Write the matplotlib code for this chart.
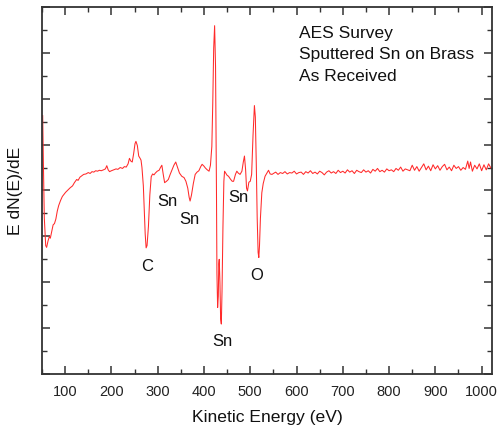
import matplotlib
matplotlib.use("Agg")
import matplotlib.pyplot as plt
from matplotlib.ticker import MultipleLocator, NullFormatter

plt.rcParams['font.family'] = ['Liberation Sans', 'DejaVu Sans']

energy = [51.5, 53, 55, 58, 60, 63, 66, 68, 71, 74, 77, 80, 83, 86, 90, 94, 97, 101, 105, 111,
          116, 120, 125, 128, 132, 136, 140, 145, 150, 154, 158, 162, 166, 170, 174, 178, 183, 187, 190, 193,
          196, 200, 205, 210, 214, 219, 224, 228, 232, 236, 239, 242, 245, 248, 251, 253, 256, 259, 262, 264,
          266, 269, 271, 273, 275, 277, 280, 283, 286, 289, 292, 295, 299, 303, 306, 309, 312, 315, 319, 323,
          327, 331, 335, 339, 343, 347, 352, 357, 361, 365, 368, 370, 373, 377, 381, 385, 389, 393, 396, 400,
          403, 407, 411, 414, 417, 419, 421, 423, 425, 427, 428, 429.5, 431, 432, 433, 434.5, 436, 437.5, 439, 441,
          443, 444.5, 447, 450, 453, 457, 461, 464, 468, 471, 474, 478, 482, 485, 487.5, 490, 492, 494, 497, 500,
          503, 506, 509, 511, 513, 515, 517, 518.5, 520, 522, 525, 528, 532, 536, 539.5, 543, 547,
          550, 555, 560, 565, 570, 575, 580, 585, 590, 595, 600, 605, 610, 615, 620, 625, 630, 635, 640, 645,
          650, 655, 660, 665, 670, 675, 680, 685, 690, 695, 700, 705, 710, 715, 720, 725, 730, 735, 740, 745,
          750, 755, 760, 765, 770, 775, 780, 785, 790, 795, 800, 805, 810, 815, 820, 825, 830, 835, 840, 845,
          850, 855, 860, 865, 870, 875, 880, 885, 890, 895, 900, 905, 910, 915, 920, 925, 930, 935, 940, 945,
          950, 955, 960, 965, 970, 973, 976, 980, 985, 990, 995, 1000, 1005, 1010, 1015, 1020]
signal = [1.63, 0.6, -0.6, -1.2, -1.24, -1.1, -1.0, -1.04, -0.9, -0.75, -0.72, -0.62, -0.45, -0.33, -0.22, -0.13, -0.09, -0.04, 0.0, 0.06,
          0.1, 0.17, 0.24, 0.22, 0.29, 0.32, 0.35, 0.36, 0.39, 0.37, 0.41, 0.40, 0.43, 0.42, 0.44, 0.43, 0.45, 0.47, 0.54, 0.45,
          0.41, 0.43, 0.45, 0.47, 0.46, 0.50, 0.48, 0.52, 0.51, 0.58, 0.70, 0.64, 0.62, 0.80, 1.02, 1.07, 0.98, 0.75, 0.70, 0.66,
          0.50, 0.10, -0.40, -0.95, -1.25, -1.2, -0.78, -0.1, 0.30, 0.36, 0.34, 0.38, 0.42, 0.44, 0.50, 0.55, 0.35, 0.17, 0.20, 0.24,
          0.35, 0.45, 0.55, 0.62, 0.50, 0.38, 0.31, 0.28, 0.20, 0.05, -0.15, -0.23, -0.10, 0.15, 0.35, 0.40, 0.43, 0.52, 0.57, 0.53,
          0.49, 0.45, 0.42, 0.55, 0.96, 1.9, 3.1, 3.59, 2.7, 0.0, -1.8, -2.55, -2.3, -1.6, -1.5, -2.0, -2.8, -2.91, -2.2, -0.8,
          0.2, 0.42, 0.38, 0.33, 0.31, 0.25, 0.20, 0.20, 0.35, 0.42, 0.38, 0.35, 0.42, 0.62, 0.75, 0.45, 0.05, -0.01, 0.18, 0.20,
          0.35, 1.2, 1.85, 1.6, 0.6, -0.6, -1.35, -1.46, -1.2, -0.6, -0.05, 0.15, 0.31, 0.38, 0.44, 0.36, 0.35,
          0.37, 0.40, 0.35, 0.39, 0.37, 0.41, 0.36, 0.39, 0.38, 0.42, 0.36, 0.39, 0.40, 0.35, 0.41, 0.38, 0.43, 0.37, 0.40, 0.36,
          0.42, 0.39, 0.34, 0.40, 0.43, 0.38, 0.41, 0.37, 0.44, 0.39, 0.42, 0.38, 0.45, 0.40, 0.43, 0.37, 0.44, 0.41, 0.39, 0.45,
          0.40, 0.43, 0.38, 0.46, 0.42, 0.48, 0.41, 0.44, 0.40, 0.47, 0.43, 0.45, 0.41, 0.48, 0.44, 0.51, 0.42, 0.47, 0.45, 0.43,
          0.55, 0.44, 0.52, 0.42, 0.50, 0.58, 0.45, 0.53, 0.43, 0.56, 0.47, 0.54, 0.44, 0.52, 0.57, 0.45, 0.51, 0.43, 0.55, 0.48,
          0.52, 0.44, 0.50, 0.46, 0.64, 0.48, 0.62, 0.42, 0.55, 0.47, 0.58, 0.43, 0.56, 0.45, 0.58, 0.49]

# peak labels: element, x, y
peak_names = ["C", "Sn", "Sn", "Sn", "Sn", "O"]
peak_x = [277, 320, 369, 475, 439, 514]
peak_y = [-1.65, -0.23, -0.63, -0.16, -3.28, -1.85]

info_lines = ["AES Survey", "Sputtered Sn on Brass", "As Received"]

fig = plt.figure(figsize=(4.97, 4.29), dpi=100)
ax = fig.add_axes([0.0845, 0.128, 0.906, 0.856])

ax.plot(energy, signal, color='#ff2a2a', linewidth=0.75)

for name, px, py in zip(peak_names, peak_x, peak_y):
    ax.text(px, py, name, ha='center', va='center', fontsize=12, color='#111111')

for i, line in enumerate(info_lines):
    ax.text(606, 3.43 - i * 0.47, line, ha='left', va='center', fontsize=12.5, color='#111111')

ax.set_xlim(50, 1023)
ax.set_ylim(-4, 4)
ax.xaxis.set_major_locator(MultipleLocator(100))
ax.xaxis.set_minor_locator(MultipleLocator(50))
ax.yaxis.set_major_locator(MultipleLocator(1))
ax.yaxis.set_minor_locator(MultipleLocator(0.5))
ax.yaxis.set_major_formatter(NullFormatter())
ax.tick_params(which='both', direction='in', top=True, right=True, colors='#333333',
               labelcolor='#222222', labelsize=10.5)
ax.tick_params(which='major', length=6, width=1.1, pad=8)
ax.tick_params(which='minor', length=3.5, width=1.0)
for s in ax.spines.values():
    s.set_linewidth(1.3)
    s.set_color('#333333')

ax.set_xlabel("Kinetic Energy (eV)", fontsize=12.6, labelpad=8, color='#111111')
ax.set_ylabel("E dN(E)/dE", fontsize=12.6, color='#111111')
ax.yaxis.set_label_coords(-0.042, 0.5)

fig.savefig("out.png", dpi=100)
